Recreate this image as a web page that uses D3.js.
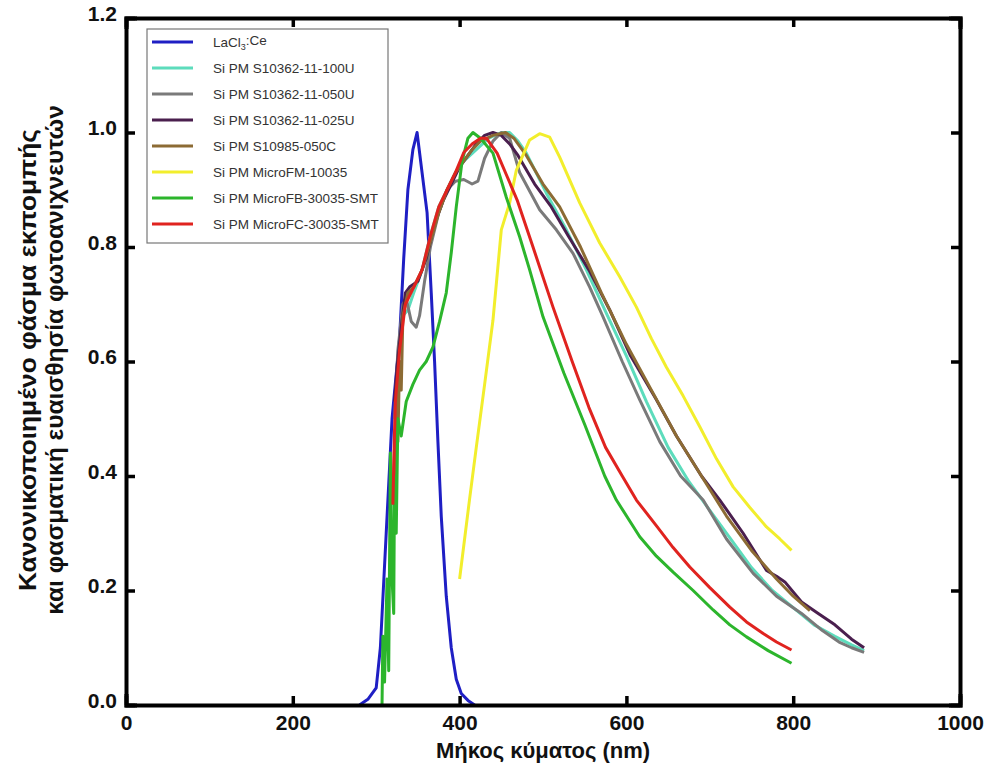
<!DOCTYPE html>
<html>
<head>
<meta charset="utf-8">
<script src="https://cdn.jsdelivr.net/npm/d3@7"></script>
<style>
  body { margin: 0; background: #fff; }
  svg { display: block; }
</style>
</head>
<body>
<script>
// wavelengths (nm) and normalized values
const laclCe = [[280,0],[290,0.01],[300,0.03],[305,0.1],[312,0.3],[319,0.5],[328,0.64],[333,0.78],[338,0.9],[344,0.97],[349,1.0],[355,0.93],[361,0.86],[366,0.72],[370,0.6],[374,0.46],[378,0.33],[384,0.19],[390,0.1],[396,0.045],[402,0.02],[410,0.008],[418,0]];

const s100U = [[322,0.4],[327,0.6],[332,0.68],[338,0.69],[345,0.72],[355,0.76],[365,0.82],[375,0.87],[385,0.9],[395,0.93],[405,0.95],[420,0.97],[435,0.99],[450,1.0],[460,1.0],[470,0.985],[480,0.964],[504,0.894],[528,0.83],[552,0.76],[576,0.684],[600,0.61],[624,0.53],[650,0.45],[675,0.39],[700,0.34],[725,0.29],[750,0.24],[775,0.2],[800,0.17],[825,0.14],[850,0.12],[870,0.105],[885,0.095]];

const s050U = [[322,0.5],[326,0.62],[332,0.7],[336,0.71],[342,0.67],[348,0.66],[352,0.68],[358,0.74],[365,0.8],[375,0.86],[385,0.9],[395,0.915],[405,0.918],[415,0.91],[422,0.915],[430,0.955],[440,0.985],[450,1.0],[460,0.99],[472,0.93],[496,0.865],[516,0.83],[536,0.789],[556,0.73],[572,0.678],[595,0.6],[616,0.533],[640,0.46],[665,0.4],[692,0.358],[720,0.29],[752,0.23],[780,0.19],[810,0.16],[835,0.13],[855,0.11],[870,0.1],[885,0.092]];

const s025U = [[322,0.53],[325,0.59],[330,0.66],[335,0.72],[340,0.73],[350,0.74],[360,0.78],[370,0.84],[380,0.88],[390,0.91],[400,0.94],[410,0.96],[420,0.98],[430,0.995],[440,1.0],[450,0.995],[460,0.98],[470,0.96],[490,0.91],[510,0.87],[530,0.82],[555,0.76],[580,0.69],[605,0.61],[636,0.533],[660,0.47],[690,0.4],[712,0.358],[740,0.3],[768,0.235],[780,0.225],[790,0.215],[810,0.18],[830,0.16],[850,0.14],[870,0.115],[885,0.1]];

const s050C = [[320,0.35],[322,0.45],[323,0.38],[325,0.55],[326,0.46],[328,0.6],[330,0.55],[332,0.68],[338,0.72],[345,0.73],[355,0.76],[365,0.81],[375,0.86],[385,0.9],[395,0.93],[405,0.95],[415,0.97],[425,0.985],[440,0.995],[455,1.0],[465,0.99],[480,0.96],[500,0.91],[520,0.87],[545,0.8],[570,0.72],[600,0.63],[630,0.55],[660,0.47],[690,0.4],[720,0.33],[750,0.27],[780,0.22],[800,0.19],[820,0.165]];

const microFM = [[400,0.22],[412,0.36],[420,0.45],[430,0.56],[440,0.672],[450,0.83],[460,0.877],[468,0.934],[484,0.987],[496,0.998],[508,0.992],[520,0.957],[544,0.877],[568,0.807],[592,0.748],[612,0.695],[630,0.64],[648,0.59],[668,0.54],[688,0.486],[708,0.43],[728,0.381],[748,0.345],[768,0.311],[784,0.29],[798,0.27]];

const microFB = [[307,0],[308,0.12],[310,0.04],[313,0.22],[315,0.06],[317,0.44],[319,0.22],[321,0.16],[322,0.4],[324,0.3],[326,0.5],[330,0.47],[336,0.53],[344,0.56],[352,0.585],[360,0.6],[368,0.625],[376,0.67],[384,0.72],[390,0.79],[396,0.87],[403,0.95],[410,0.99],[416,1.0],[425,0.99],[440,0.964],[456,0.887],[472,0.818],[484,0.76],[500,0.678],[525,0.58],[550,0.49],[574,0.4],[588,0.358],[616,0.294],[636,0.26],[656,0.232],[680,0.2],[704,0.166],[724,0.14],[744,0.119],[770,0.095],[798,0.073]];

const microFC = [[320,0.35],[322,0.48],[323,0.53],[328,0.62],[335,0.7],[345,0.73],[355,0.76],[365,0.82],[375,0.87],[385,0.9],[395,0.93],[405,0.965],[415,0.98],[425,0.99],[432,0.99],[445,0.964],[469,0.882],[488,0.8],[512,0.695],[535,0.6],[555,0.52],[575,0.45],[595,0.4],[612,0.358],[637,0.311],[656,0.275],[676,0.241],[700,0.205],[724,0.171],[744,0.145],[764,0.125],[780,0.11],[798,0.096]];

const seriesNames = ["LaCl3:Ce", "Si PM S10362-11-100U", "Si PM S10362-11-050U", "Si PM S10362-11-025U", "Si PM S10985-050C", "Si PM MicroFM-10035", "Si PM MicroFB-30035-SMT", "Si PM MicroFC-30035-SMT"];
const seriesData = [laclCe, s100U, s050U, s025U, s050C, microFM, microFB, microFC];
const seriesColours = ["#1f1fc4", "#5ddcbc", "#7a7a7a", "#4a1f4e", "#8c6b34", "#f2ee2c", "#2cb52c", "#e0231f"];

const xTicks = [0, 200, 400, 600, 800, 1000];
const yTicks = [0, 0.2, 0.4, 0.6, 0.8, 1.0, 1.2];
const yTitleLines = ["Κανονικοποιημένο φάσμα εκπομπής", "και φασματική ευαισθησία φωτοανιχνευτών"];

const width = 990, height = 774;
const margin = {top: 18, right: 30, bottom: 69, left: 126};

const svg = d3.select("body").append("svg")
  .attr("width", width)
  .attr("height", height);

const x = d3.scaleLinear().domain([0, 1000]).range([margin.left, width - margin.right]);
const y = d3.scaleLinear().domain([0, 1.2]).range([height - margin.bottom, margin.top]);

const line = d3.line()
  .x(function(d) { return x(d[0]); })
  .y(function(d) { return y(d[1]); });

// curves
const plot = svg.append("g");
seriesData.forEach(function(data, i) {
  plot.append("path")
    .datum(data)
    .attr("fill", "none")
    .attr("stroke", seriesColours[i])
    .attr("stroke-width", 3)
    .attr("stroke-linejoin", "round")
    .attr("d", line);
});

// frame with inward ticks on every side
const tickFont = "'Liberation Sans', Arial, sans-serif";

const xAxis = svg.append("g")
  .attr("transform", "translate(0," + y(0) + ")")
  .call(d3.axisBottom(x).tickValues(xTicks).tickSize(-9).tickPadding(12).tickFormat(d3.format("d")));

const yAxis = svg.append("g")
  .attr("transform", "translate(" + x(0) + ",0)")
  .call(d3.axisLeft(y).tickValues(yTicks).tickSize(-9).tickPadding(9).tickFormat(d3.format(".1f")));

const xTop = svg.append("g")
  .attr("transform", "translate(0," + y(1.2) + ")")
  .call(d3.axisTop(x).tickValues(xTicks).tickSize(-9).tickFormat(""));

const yRight = svg.append("g")
  .attr("transform", "translate(" + x(1000) + ",0)")
  .call(d3.axisRight(y).tickValues(yTicks).tickSize(-9).tickFormat(""));

[xAxis, yAxis, xTop, yRight].forEach(function(g) {
  g.select(".domain").attr("stroke", "#000").attr("stroke-width", 4).attr("stroke-linecap", "square");
  g.selectAll(".tick line").attr("stroke", "#000").attr("stroke-width", 3.5);
  g.selectAll(".tick text")
    .attr("fill", "#111")
    .style("font-family", tickFont)
    .style("font-size", "21px")
    .style("font-weight", "bold");
});
xAxis.selectAll(".tick text").attr("dy", "0.6em");
yAxis.selectAll(".tick text").attr("dy", "0.1em");

// axis titles
svg.append("text")
  .attr("x", (x(0) + x(1000)) / 2)
  .attr("y", 758)
  .attr("text-anchor", "middle")
  .style("font-family", tickFont)
  .style("font-size", "22px")
  .style("font-weight", "bold")
  .attr("fill", "#111")
  .text("Μήκος κύματος (nm)");

// y title: two condensed lines, squeezed to the lengths seen in the picture
const yTitleLengths = [462, 510];
yTitleLines.forEach(function(txt, i) {
  const g = svg.append("g");
  const t = g.append("text")
    .attr("text-anchor", "middle")
    .style("font-family", tickFont)
    .style("font-size", "23px")
    .style("font-weight", "bold")
    .attr("fill", "#111")
    .text(txt);
  const sx = yTitleLengths[i] / t.node().getComputedTextLength();
  g.attr("transform", "translate(" + (36 + i * 27) + ",360) rotate(-90) scale(" + sx + ",1)");
});

// legend
const legend = svg.append("g").attr("transform", "translate(147,29)");
legend.append("rect")
  .attr("width", 241)
  .attr("height", 214)
  .attr("fill", "#fff")
  .attr("stroke", "#777")
  .attr("stroke-width", 1.2);

seriesNames.forEach(function(name, i) {
  const row = legend.append("g").attr("transform", "translate(0," + (13 + i * 26) + ")");
  row.append("line")
    .attr("x1", 5).attr("x2", 46)
    .attr("stroke", seriesColours[i])
    .attr("stroke-width", 3);
  const label = row.append("text")
    .attr("x", 66)
    .attr("dy", "0.35em")
    .style("font-family", tickFont)
    .style("font-size", "13.5px")
    .attr("fill", "#333");
  if (i === 0) {
    label.append("tspan").text("LaCl");
    label.append("tspan").attr("dy", "0.35em").style("font-size", "9px").text("3");
    label.append("tspan").attr("dy", "-0.35em").text(":Ce");
  } else {
    label.text(name);
  }
});
</script>
</body>
</html>
